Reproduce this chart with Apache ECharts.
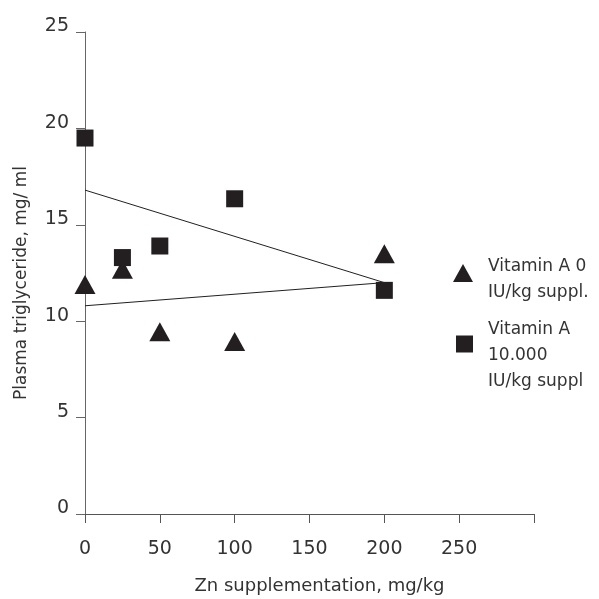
<!DOCTYPE html>
<html>
<head>
<meta charset="utf-8">
<script src="https://cdn.jsdelivr.net/npm/echarts@6/dist/echarts.min.js"></script>
<style>
html,body{margin:0;padding:0;background:#fff;}
#chart{width:599px;height:599px;}
</style>
</head>
<body>
<div id="chart"></div>
<script>
var zinc = [0, 25, 50, 100, 200];
var vitA0 = [11.9, 12.7, 9.45, 8.95, 13.5];
var vitA10000 = [19.5, 13.3, 13.9, 16.35, 11.6];
var trendVitA0 = [[0, 10.8], [200, 12.0]];
var trendVitA10000 = [[0, 16.8], [200, 12.0]];
var xTicks = [0, 50, 100, 150, 200, 250];
var yTicks = [0, 5, 10, 15, 20, 25];
var nameA0 = 'Vitamin A 0\nIU/kg suppl.';
var nameA10000 = 'Vitamin A\n10.000\nIU/kg suppl';

function pairs(xs, ys) { return xs.map(function (x, i) { return [x, ys[i]]; }); }

var font = 'DejaVu Sans';
var ink = '#231f20';

function legendFormatter(spacer) {
  return function (name) {
    return '{sp' + spacer + '| }\n' + name.split('\n').map(function (l) { return '{t|' + l + '}'; }).join('\n');
  };
}
var legendRich = {
  t: {fontFamily: font, fontSize: 17, color: '#333', lineHeight: 26, padding: [0, 0, 0, 10]},
  sp14: {fontSize: 1, lineHeight: 14, height: 14},
  sp24: {fontSize: 1, lineHeight: 24, height: 24}
};

var chart = echarts.init(document.getElementById('chart'), null, {renderer: 'canvas'});
chart.setOption({
  animation: false,
  backgroundColor: '#fff',
  grid: {left: 85, right: 65, top: 32, bottom: 85, containLabel: false, outerBoundsMode: 'none'},
  xAxis: {
    type: 'value', min: 0, max: 300, interval: 50,
    name: 'Zn supplementation, mg/kg', nameLocation: 'middle', nameGap: 63,
    nameTextStyle: {fontFamily: font, fontSize: 18, color: '#333', padding: [0, 0, 0, 20]},
    axisLine: {show: true, lineStyle: {color: '#555', width: 1}},
    axisTick: {show: true, length: 9, inside: false, lineStyle: {color: '#555'}},
    axisLabel: {fontFamily: font, fontSize: 19, color: '#333', margin: 26,
      formatter: function (v) { return xTicks.indexOf(v) >= 0 ? String(v) : ''; }},
    splitLine: {show: false}
  },
  yAxis: {
    type: 'value', min: 0, max: 25, interval: 5,
    name: 'Plasma triglyceride, mg/ ml', nameLocation: 'middle', nameGap: 55, nameRotate: 90,
    nameTextStyle: {fontFamily: font, fontSize: 17, color: '#333', padding: [0, 20, 0, 0]},
    axisLine: {show: true, lineStyle: {color: '#666', width: 1}},
    axisTick: {show: true, length: 9, inside: false, lineStyle: {color: '#666'}},
    axisLabel: {fontFamily: font, fontSize: 19, color: '#333', margin: 16,
      formatter: function (v) { return yTicks.indexOf(v) >= 0 ? '{a|' + v + '}' : ''; },
      rich: {a: {fontFamily: font, fontSize: 19, color: '#333', padding: [0, 0, 11, 0]}}},
    splitLine: {show: false}
  },
  legend: [
    {
      orient: 'vertical', left: 453, top: 240, padding: 0,
      itemWidth: 20, itemHeight: 18, itemGap: 0,
      formatter: legendFormatter(14),
      textStyle: {rich: legendRich},
      data: [{name: nameA0, icon: 'triangle'}]
    },
    {
      orient: 'vertical', left: 456, top: 293, padding: 0,
      itemWidth: 17, itemHeight: 17, itemGap: 0,
      formatter: legendFormatter(24),
      textStyle: {rich: legendRich},
      data: [{name: nameA10000, icon: 'rect'}]
    }
  ],
  series: [
    {
      name: 'trendA10000', type: 'line', data: trendVitA10000, symbol: 'none',
      lineStyle: {color: ink, width: 1}, z: 1, silent: true
    },
    {
      name: 'trendA0', type: 'line', data: trendVitA0, symbol: 'none',
      lineStyle: {color: ink, width: 1}, z: 1, silent: true
    },
    {
      name: nameA0, type: 'scatter', data: pairs(zinc, vitA0),
      symbol: 'triangle', symbolSize: [21, 19],
      itemStyle: {color: ink, opacity: 1}, z: 3
    },
    {
      name: nameA10000, type: 'scatter', data: pairs(zinc, vitA10000),
      symbol: 'rect', symbolSize: [17, 17],
      itemStyle: {color: ink, opacity: 1}, z: 4
    }
  ]
});
</script>
</body>
</html>
